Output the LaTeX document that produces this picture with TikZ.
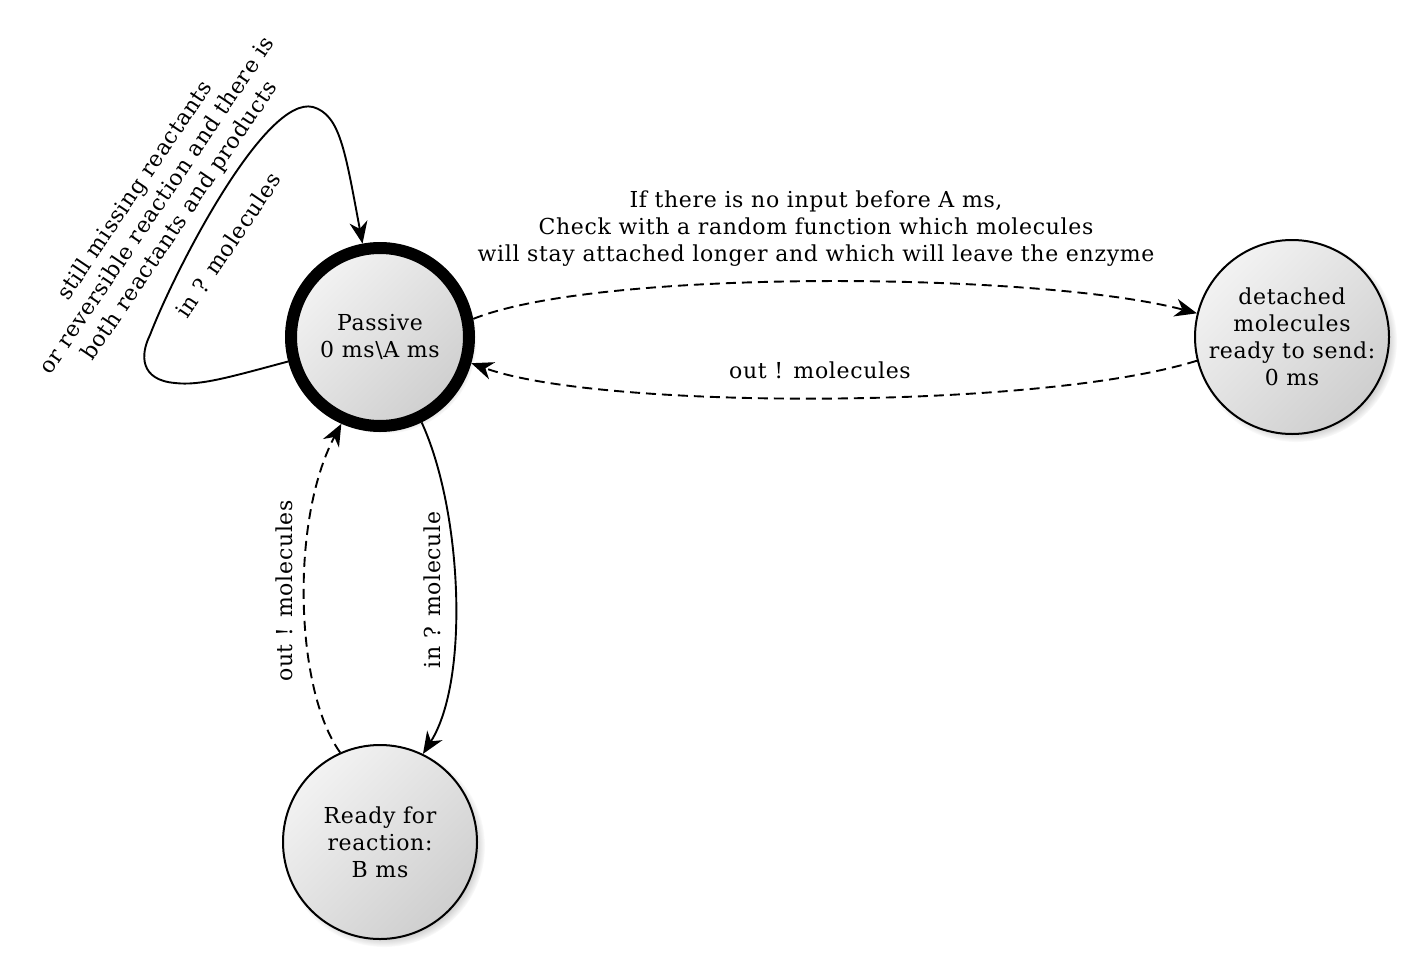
\documentclass[tikz,border=0pt]{standalone}
\usepackage{fontspec}
\setmainfont[LetterSpace=3]{DejaVu Serif}
\usetikzlibrary{shadows,arrows.meta,calc}
\begin{document}
\begin{tikzpicture}[x=1pt,y=-1pt,
  txt/.style={font=\fontsize{22}{27}\selectfont, align=center, inner sep=0pt},
  state/.style={circle, draw=black, line width=2pt, minimum size=194pt, inner sep=0pt,
    align=center, top color=black!5, bottom color=black!19, shading angle=45,
    circular drop shadow={shadow xshift=4pt, shadow yshift=-4pt, shadow scale=1.04, opacity=.6},
    font=\fontsize{22}{27}\selectfont},
  conn/.style={line width=1.9pt, -{Stealth[length=22pt,width=18pt,inset=7pt]}},
  dconn/.style={conn, dash pattern=on 10pt off 6pt}
]
\useasboundingbox (0,0) rectangle (1426,953);
\node[state, line width=12pt, minimum size=178pt] (P) at (380,337) {Passive\\0 ms\textbackslash A ms};
\node[state] (D) at (1292,337) {detached\\molecules\\ready to send:\\0 ms};
\node[state] (R) at (380,842) {Ready for\\reaction:\\B ms};

% self loop
\draw[conn] (P) .. controls (230,377) and (200,386) .. (175,383)
  .. controls (140,380) and (140,355) .. (150,335)
  .. controls (175,270) and (265,95) .. (313,107)
  .. controls (340,115) and (345,150) .. (P);
\node[txt, rotate=56] (l1) at (228,245) {in ? molecules};
\node[txt, rotate=56] (l2) at (158,206) {still missing reactants\\or reversible reaction and there is\\both reactants and products};

% passive -> detached
\draw[dconn] (P.11) .. controls (600,268) and (1040,272) .. (D.166);
\node[txt] (l3) at (816,229) {If there is no input before A ms,\\Check with a random function which molecules\\will stay attached longer and which will leave the enzyme};

% detached -> passive
\draw[dconn] (D.194) .. controls (1040,410) and (600,410) .. (P.344);
\node[txt] (l4) at (820,370) {out ! molecules};

% passive -> ready
\draw[conn] (P.-64) .. controls (462,510) and (470,680) .. (R.64);
\node[txt, rotate=90] (l5) at (432,590) {in ? molecule};

% ready -> passive
\draw[dconn] (R.114) .. controls (295,690) and (290,520) .. (P.246);
\node[txt, rotate=90] (l6) at (284,591) {out ! molecules};
\end{tikzpicture}
\end{document}
